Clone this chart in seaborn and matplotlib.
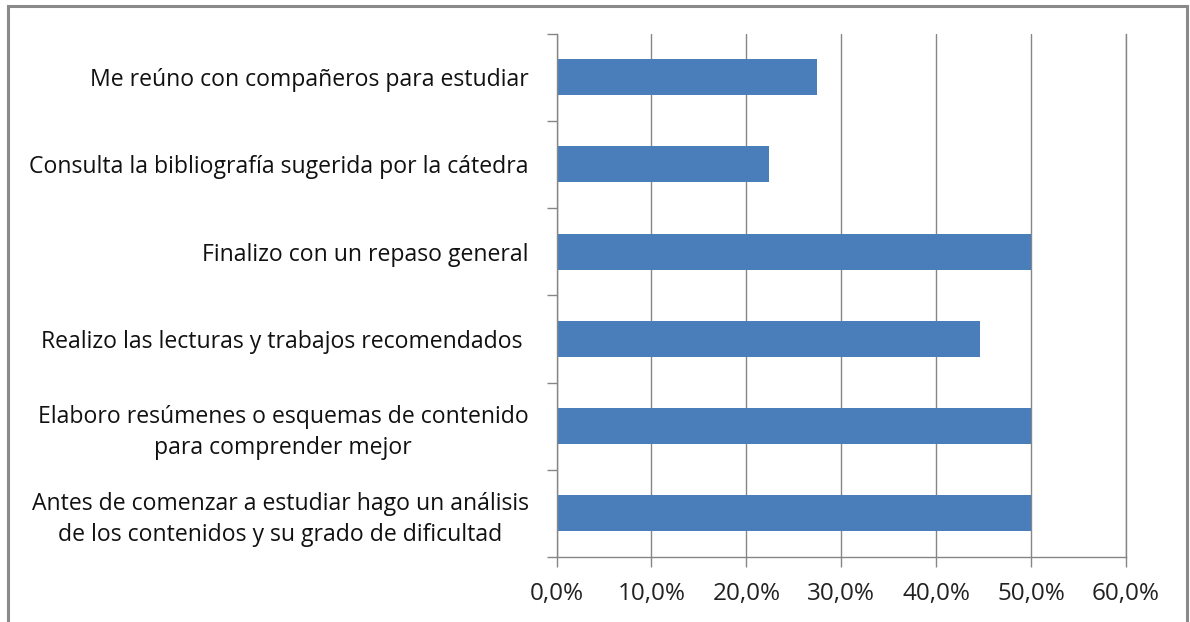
import matplotlib
matplotlib.use("Agg")
import matplotlib.pyplot as plt
import matplotlib.patches as mpatches
import seaborn as sns
import pandas as pd

categories = [
    "Me reúno con compañeros para estudiar",
    "Consulta la bibliografía sugerida por la cátedra",
    "Finalizo con un repaso general",
    "Realizo las lecturas y trabajos recomendados ",
    "Elaboro resúmenes o esquemas de contenido\npara comprender mejor",
    "Antes de comenzar a estudiar hago un análisis\nde los contenidos y su grado de dificultad",
]
values = [27.4, 22.4, 50.0, 44.6, 50.0, 50.0]
x_ticks = [0, 10, 20, 30, 40, 50, 60]
x_tick_labels = ["0,0%", "10,0%", "20,0%", "30,0%", "40,0%", "50,0%", "60,0%"]

df = pd.DataFrame({"cat": categories, "val": values})

sns.set_theme(style="white")
plt.rcParams["font.family"] = ["Open Sans", "DejaVu Sans"]

fig = plt.figure(figsize=(11.9, 6.22), dpi=100)
ax = fig.add_axes([556.5 / 1190, 1 - 557 / 622, (1126 - 556.5) / 1190, (557 - 33.5) / 622])

sns.barplot(data=df, x="val", y="cat", orient="h", color="#4A7EBB",
            saturation=1, width=0.41, ax=ax, order=categories, linewidth=0)

grid_c = "#868686"
ax.set_xlim(0, 60)
ax.set_ylim(5.5, -0.5)
ax.set_xticks(x_ticks)
ax.set_xticklabels(x_tick_labels, fontsize=17.5, color="#222222")
ax.set_xlabel("")
ax.set_ylabel("")
ax.set_axisbelow(True)
ax.xaxis.grid(True, color=grid_c, linewidth=1.0)
ax.yaxis.grid(False)

ax.spines["top"].set_visible(False)
for s in ["left", "bottom", "right"]:
    ax.spines[s].set_color(grid_c)
    ax.spines[s].set_linewidth(1.0)

ax.tick_params(axis="x", which="major", direction="out", length=7, width=1.0,
               color=grid_c, pad=11, bottom=True)
ax.set_yticks(range(len(categories)))
ax.set_yticklabels(categories, fontsize=16.6, color="#111111",
                   ha="right", multialignment="center", linespacing=1.36)
ax.tick_params(axis="y", which="major", length=0, pad=20)
ax.set_yticks([i - 0.5 for i in range(len(categories) + 1)], minor=True)
ax.tick_params(axis="y", which="minor", direction="out", length=7, width=1.0,
               color=grid_c, left=True)

border = mpatches.Rectangle((7.5 / 1190, -0.05), (1187 - 7.5) / 1190, 1.05 - 6 / 622,
                            transform=fig.transFigure, fill=False,
                            edgecolor="#8a8a8a", linewidth=2.2, clip_on=False)
fig.patches.append(border)

fig.savefig("out.png", dpi=100, facecolor="white")
